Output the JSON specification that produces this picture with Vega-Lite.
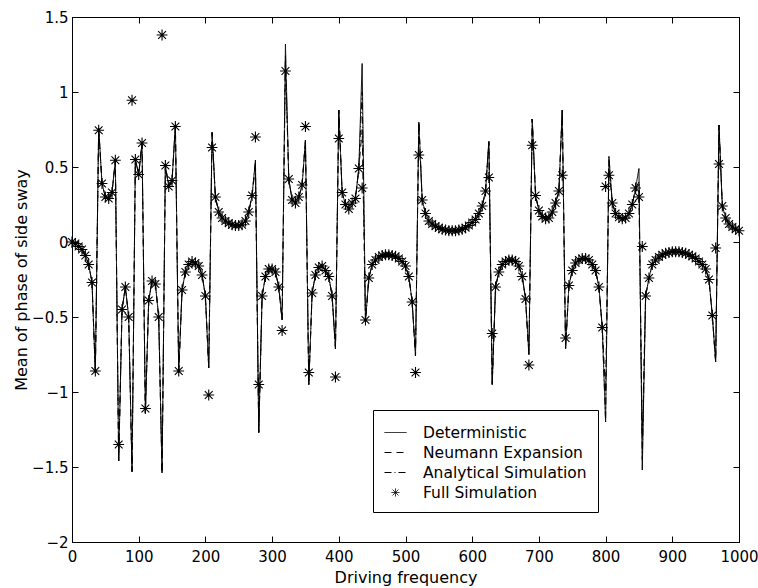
{
"$schema": "https://vega.github.io/schema/vega-lite/v6.json",
"width": 667, "height": 525,
"autosize": {"type": "none"},
"padding": {"left": 72, "top": 17, "right": 19, "bottom": 46},
"background": "white",
"config": {
  "view": {"stroke": "black", "strokeWidth": 1},
  "font": "DejaVu Sans",
  "axis": {"domainColor": "black", "tickColor": "black", "labelColor": "black", "titleColor": "black", "titleFontWeight": "normal", "grid": false, "labelFont": "DejaVu Sans", "titleFont": "DejaVu Sans", "labelFontSize": 15, "titleFontSize": 15, "tickSize": -6, "labelOverlap": false, "labelFlush": false}
},
"data": {"values": [
{"x":0,"d":0,"n":0,"a":0,"f":0},
{"x":5,"d":-0.01,"n":-0.01,"a":-0.01,"f":-0.01},
{"x":10,"d":-0.03,"n":-0.03,"a":-0.03,"f":-0.03},
{"x":15,"d":-0.05,"n":-0.05,"a":-0.05,"f":-0.05},
{"x":20,"d":-0.09,"n":-0.09,"a":-0.09,"f":-0.09},
{"x":25,"d":-0.15,"n":-0.15,"a":-0.15,"f":-0.15},
{"x":30,"d":-0.27,"n":-0.27,"a":-0.27,"f":-0.27},
{"x":35,"d":-0.87,"n":-0.87,"a":-0.87,"f":-0.86},
{"x":40,"d":0.76,"n":0.76,"a":0.76,"f":0.745},
{"x":45,"d":0.39,"n":0.39,"a":0.39,"f":0.39},
{"x":50,"d":0.3,"n":0.3,"a":0.3,"f":0.3},
{"x":55,"d":0.29,"n":0.29,"a":0.29,"f":0.29},
{"x":60,"d":0.33,"n":0.33,"a":0.33,"f":0.33},
{"x":65,"d":0.545,"n":0.545,"a":0.545,"f":0.545},
{"x":70,"d":-1.46,"n":-1.46,"a":-1.46,"f":-1.35},
{"x":75,"d":-0.45,"n":-0.45,"a":-0.45,"f":-0.45},
{"x":80,"d":-0.3,"n":-0.3,"a":-0.3,"f":-0.3},
{"x":85,"d":-0.5,"n":-0.5,"a":-0.5,"f":-0.5},
{"x":90,"d":-1.53,"n":-1.53,"a":-1.53,"f":0.945},
{"x":95,"d":0.55,"n":0.55,"a":0.55,"f":0.55},
{"x":100,"d":0.45,"n":0.45,"a":0.45,"f":0.45},
{"x":105,"d":0.66,"n":0.66,"a":0.66,"f":0.66},
{"x":110,"d":-1.14,"n":-1.14,"a":-1.14,"f":-1.11},
{"x":115,"d":-0.39,"n":-0.39,"a":-0.39,"f":-0.39},
{"x":120,"d":-0.26,"n":-0.26,"a":-0.26,"f":-0.26},
{"x":125,"d":-0.28,"n":-0.28,"a":-0.28,"f":-0.28},
{"x":130,"d":-0.5,"n":-0.5,"a":-0.5,"f":-0.5},
{"x":135,"d":-1.54,"n":-1.54,"a":-1.54,"f":1.38},
{"x":140,"d":0.51,"n":0.51,"a":0.51,"f":0.51},
{"x":145,"d":0.37,"n":0.37,"a":0.37,"f":0.37},
{"x":150,"d":0.41,"n":0.41,"a":0.41,"f":0.41},
{"x":155,"d":0.78,"n":0.78,"a":0.78,"f":0.77},
{"x":160,"d":-0.87,"n":-0.87,"a":-0.87,"f":-0.86},
{"x":165,"d":-0.32,"n":-0.32,"a":-0.32,"f":-0.32},
{"x":170,"d":-0.2,"n":-0.2,"a":-0.2,"f":-0.2},
{"x":175,"d":-0.15,"n":-0.15,"a":-0.15,"f":-0.15},
{"x":180,"d":-0.13,"n":-0.13,"a":-0.13,"f":-0.13},
{"x":185,"d":-0.14,"n":-0.14,"a":-0.14,"f":-0.14},
{"x":190,"d":-0.16,"n":-0.16,"a":-0.16,"f":-0.16},
{"x":195,"d":-0.22,"n":-0.22,"a":-0.22,"f":-0.22},
{"x":200,"d":-0.36,"n":-0.36,"a":-0.36,"f":-0.36},
{"x":205,"d":-0.84,"n":-0.84,"a":-0.84,"f":-1.02},
{"x":210,"d":0.73,"n":0.73,"a":0.73,"f":0.63},
{"x":215,"d":0.3,"n":0.3,"a":0.3,"f":0.3},
{"x":220,"d":0.2,"n":0.2,"a":0.2,"f":0.2},
{"x":225,"d":0.16,"n":0.16,"a":0.16,"f":0.16},
{"x":230,"d":0.14,"n":0.14,"a":0.14,"f":0.14},
{"x":235,"d":0.125,"n":0.125,"a":0.125,"f":0.125},
{"x":240,"d":0.115,"n":0.115,"a":0.115,"f":0.115},
{"x":245,"d":0.11,"n":0.11,"a":0.11,"f":0.11},
{"x":250,"d":0.11,"n":0.11,"a":0.11,"f":0.11},
{"x":255,"d":0.115,"n":0.115,"a":0.115,"f":0.115},
{"x":260,"d":0.14,"n":0.14,"a":0.14,"f":0.14},
{"x":265,"d":0.2,"n":0.2,"a":0.2,"f":0.2},
{"x":270,"d":0.31,"n":0.31,"a":0.31,"f":0.31},
{"x":275,"d":0.545,"n":0.5,"a":0.545,"f":0.7},
{"x":280,"d":-1.27,"n":-1.27,"a":-1.27,"f":-0.95},
{"x":285,"d":-0.36,"n":-0.36,"a":-0.36,"f":-0.36},
{"x":290,"d":-0.23,"n":-0.23,"a":-0.23,"f":-0.23},
{"x":295,"d":-0.18,"n":-0.18,"a":-0.18,"f":-0.18},
{"x":300,"d":-0.18,"n":-0.18,"a":-0.18,"f":-0.18},
{"x":305,"d":-0.2,"n":-0.2,"a":-0.2,"f":-0.2},
{"x":310,"d":-0.3,"n":-0.3,"a":-0.3,"f":-0.3},
{"x":315,"d":-0.52,"n":-0.52,"a":-0.52,"f":-0.59},
{"x":320,"d":1.32,"n":1.2,"a":1.25,"f":1.14},
{"x":325,"d":0.42,"n":0.42,"a":0.42,"f":0.42},
{"x":330,"d":0.28,"n":0.28,"a":0.28,"f":0.28},
{"x":335,"d":0.26,"n":0.26,"a":0.26,"f":0.26},
{"x":340,"d":0.3,"n":0.3,"a":0.3,"f":0.3},
{"x":345,"d":0.38,"n":0.38,"a":0.38,"f":0.38},
{"x":350,"d":0.68,"n":0.68,"a":0.68,"f":0.77},
{"x":355,"d":-0.95,"n":-0.95,"a":-0.95,"f":-0.87},
{"x":360,"d":-0.34,"n":-0.34,"a":-0.34,"f":-0.34},
{"x":365,"d":-0.22,"n":-0.22,"a":-0.22,"f":-0.22},
{"x":370,"d":-0.17,"n":-0.17,"a":-0.17,"f":-0.17},
{"x":375,"d":-0.16,"n":-0.16,"a":-0.16,"f":-0.16},
{"x":380,"d":-0.19,"n":-0.19,"a":-0.19,"f":-0.19},
{"x":385,"d":-0.23,"n":-0.23,"a":-0.23,"f":-0.23},
{"x":390,"d":-0.36,"n":-0.36,"a":-0.36,"f":-0.36},
{"x":395,"d":-0.71,"n":-0.71,"a":-0.71,"f":-0.9},
{"x":400,"d":0.88,"n":0.88,"a":0.88,"f":0.69},
{"x":405,"d":0.33,"n":0.33,"a":0.33,"f":0.33},
{"x":410,"d":0.25,"n":0.25,"a":0.25,"f":0.25},
{"x":415,"d":0.22,"n":0.22,"a":0.22,"f":0.22},
{"x":420,"d":0.26,"n":0.26,"a":0.26,"f":0.26},
{"x":425,"d":0.29,"n":0.29,"a":0.29,"f":0.29},
{"x":430,"d":0.49,"n":0.49,"a":0.49,"f":0.49},
{"x":435,"d":1.19,"n":0.75,"a":1.0,"f":0.36},
{"x":440,"d":-0.53,"n":-0.53,"a":-0.53,"f":-0.52},
{"x":445,"d":-0.24,"n":-0.24,"a":-0.24,"f":-0.24},
{"x":450,"d":-0.15,"n":-0.15,"a":-0.15,"f":-0.15},
{"x":455,"d":-0.12,"n":-0.12,"a":-0.12,"f":-0.12},
{"x":460,"d":-0.1,"n":-0.1,"a":-0.1,"f":-0.1},
{"x":465,"d":-0.09,"n":-0.09,"a":-0.09,"f":-0.09},
{"x":470,"d":-0.085,"n":-0.085,"a":-0.085,"f":-0.085},
{"x":475,"d":-0.085,"n":-0.085,"a":-0.085,"f":-0.085},
{"x":480,"d":-0.09,"n":-0.09,"a":-0.09,"f":-0.09},
{"x":485,"d":-0.095,"n":-0.095,"a":-0.095,"f":-0.095},
{"x":490,"d":-0.11,"n":-0.11,"a":-0.11,"f":-0.11},
{"x":495,"d":-0.13,"n":-0.13,"a":-0.13,"f":-0.13},
{"x":500,"d":-0.16,"n":-0.16,"a":-0.16,"f":-0.16},
{"x":505,"d":-0.23,"n":-0.23,"a":-0.23,"f":-0.23},
{"x":510,"d":-0.4,"n":-0.4,"a":-0.4,"f":-0.4},
{"x":515,"d":-0.76,"n":-0.76,"a":-0.76,"f":-0.87},
{"x":520,"d":0.8,"n":0.8,"a":0.8,"f":0.58},
{"x":525,"d":0.28,"n":0.28,"a":0.28,"f":0.28},
{"x":530,"d":0.19,"n":0.19,"a":0.19,"f":0.19},
{"x":535,"d":0.14,"n":0.14,"a":0.14,"f":0.14},
{"x":540,"d":0.12,"n":0.12,"a":0.12,"f":0.12},
{"x":545,"d":0.105,"n":0.105,"a":0.105,"f":0.105},
{"x":550,"d":0.095,"n":0.095,"a":0.095,"f":0.095},
{"x":555,"d":0.085,"n":0.085,"a":0.085,"f":0.085},
{"x":560,"d":0.08,"n":0.08,"a":0.08,"f":0.08},
{"x":565,"d":0.075,"n":0.075,"a":0.075,"f":0.075},
{"x":570,"d":0.075,"n":0.075,"a":0.075,"f":0.075},
{"x":575,"d":0.075,"n":0.075,"a":0.075,"f":0.075},
{"x":580,"d":0.08,"n":0.08,"a":0.08,"f":0.08},
{"x":585,"d":0.085,"n":0.085,"a":0.085,"f":0.085},
{"x":590,"d":0.095,"n":0.095,"a":0.095,"f":0.095},
{"x":595,"d":0.11,"n":0.11,"a":0.11,"f":0.11},
{"x":600,"d":0.13,"n":0.13,"a":0.13,"f":0.13},
{"x":605,"d":0.15,"n":0.15,"a":0.15,"f":0.15},
{"x":610,"d":0.19,"n":0.19,"a":0.19,"f":0.19},
{"x":615,"d":0.24,"n":0.24,"a":0.24,"f":0.24},
{"x":620,"d":0.34,"n":0.34,"a":0.34,"f":0.34},
{"x":625,"d":0.67,"n":0.67,"a":0.67,"f":0.43},
{"x":630,"d":-0.95,"n":-0.95,"a":-0.95,"f":-0.61},
{"x":635,"d":-0.3,"n":-0.3,"a":-0.3,"f":-0.3},
{"x":640,"d":-0.2,"n":-0.2,"a":-0.2,"f":-0.2},
{"x":645,"d":-0.15,"n":-0.15,"a":-0.15,"f":-0.15},
{"x":650,"d":-0.13,"n":-0.13,"a":-0.13,"f":-0.13},
{"x":655,"d":-0.12,"n":-0.12,"a":-0.12,"f":-0.12},
{"x":660,"d":-0.12,"n":-0.12,"a":-0.12,"f":-0.12},
{"x":665,"d":-0.13,"n":-0.13,"a":-0.13,"f":-0.13},
{"x":670,"d":-0.16,"n":-0.16,"a":-0.16,"f":-0.16},
{"x":675,"d":-0.23,"n":-0.23,"a":-0.23,"f":-0.23},
{"x":680,"d":-0.38,"n":-0.38,"a":-0.38,"f":-0.38},
{"x":685,"d":-0.75,"n":-0.75,"a":-0.75,"f":-0.82},
{"x":690,"d":0.82,"n":0.82,"a":0.82,"f":0.645},
{"x":695,"d":0.31,"n":0.31,"a":0.31,"f":0.31},
{"x":700,"d":0.21,"n":0.21,"a":0.21,"f":0.21},
{"x":705,"d":0.17,"n":0.17,"a":0.17,"f":0.17},
{"x":710,"d":0.155,"n":0.155,"a":0.155,"f":0.155},
{"x":715,"d":0.16,"n":0.16,"a":0.16,"f":0.16},
{"x":720,"d":0.2,"n":0.2,"a":0.2,"f":0.2},
{"x":725,"d":0.26,"n":0.26,"a":0.26,"f":0.26},
{"x":730,"d":0.34,"n":0.34,"a":0.34,"f":0.34},
{"x":735,"d":0.88,"n":0.88,"a":0.88,"f":0.445},
{"x":740,"d":-0.71,"n":-0.71,"a":-0.71,"f":-0.64},
{"x":745,"d":-0.29,"n":-0.29,"a":-0.29,"f":-0.29},
{"x":750,"d":-0.19,"n":-0.19,"a":-0.19,"f":-0.19},
{"x":755,"d":-0.14,"n":-0.14,"a":-0.14,"f":-0.14},
{"x":760,"d":-0.12,"n":-0.12,"a":-0.12,"f":-0.12},
{"x":765,"d":-0.11,"n":-0.11,"a":-0.11,"f":-0.11},
{"x":770,"d":-0.11,"n":-0.11,"a":-0.11,"f":-0.11},
{"x":775,"d":-0.12,"n":-0.12,"a":-0.12,"f":-0.12},
{"x":780,"d":-0.15,"n":-0.15,"a":-0.15,"f":-0.15},
{"x":785,"d":-0.19,"n":-0.19,"a":-0.19,"f":-0.19},
{"x":790,"d":-0.3,"n":-0.3,"a":-0.3,"f":-0.3},
{"x":795,"d":-0.57,"n":-0.57,"a":-0.57,"f":-0.57},
{"x":800,"d":-1.2,"n":-1.0,"a":-1.2,"f":0.37},
{"x":805,"d":0.57,"n":0.5,"a":0.57,"f":0.445},
{"x":810,"d":0.26,"n":0.26,"a":0.26,"f":0.26},
{"x":815,"d":0.19,"n":0.19,"a":0.19,"f":0.19},
{"x":820,"d":0.165,"n":0.165,"a":0.165,"f":0.165},
{"x":825,"d":0.155,"n":0.155,"a":0.155,"f":0.155},
{"x":830,"d":0.16,"n":0.16,"a":0.16,"f":0.16},
{"x":835,"d":0.19,"n":0.19,"a":0.19,"f":0.19},
{"x":840,"d":0.25,"n":0.25,"a":0.25,"f":0.25},
{"x":845,"d":0.36,"n":0.36,"a":0.36,"f":0.36},
{"x":850,"d":0.49,"n":0.3,"a":0.4,"f":0.3},
{"x":855,"d":-1.52,"n":-1.3,"a":-1.45,"f":-0.03},
{"x":860,"d":-0.36,"n":-0.36,"a":-0.36,"f":-0.36},
{"x":865,"d":-0.24,"n":-0.24,"a":-0.24,"f":-0.24},
{"x":870,"d":-0.15,"n":-0.15,"a":-0.15,"f":-0.15},
{"x":875,"d":-0.12,"n":-0.12,"a":-0.12,"f":-0.12},
{"x":880,"d":-0.1,"n":-0.1,"a":-0.1,"f":-0.1},
{"x":885,"d":-0.085,"n":-0.085,"a":-0.085,"f":-0.085},
{"x":890,"d":-0.075,"n":-0.075,"a":-0.075,"f":-0.075},
{"x":895,"d":-0.07,"n":-0.07,"a":-0.07,"f":-0.07},
{"x":900,"d":-0.065,"n":-0.065,"a":-0.065,"f":-0.065},
{"x":905,"d":-0.065,"n":-0.065,"a":-0.065,"f":-0.065},
{"x":910,"d":-0.065,"n":-0.065,"a":-0.065,"f":-0.065},
{"x":915,"d":-0.07,"n":-0.07,"a":-0.07,"f":-0.07},
{"x":920,"d":-0.075,"n":-0.075,"a":-0.075,"f":-0.075},
{"x":925,"d":-0.085,"n":-0.085,"a":-0.085,"f":-0.085},
{"x":930,"d":-0.095,"n":-0.095,"a":-0.095,"f":-0.095},
{"x":935,"d":-0.11,"n":-0.11,"a":-0.11,"f":-0.11},
{"x":940,"d":-0.13,"n":-0.13,"a":-0.13,"f":-0.13},
{"x":945,"d":-0.15,"n":-0.15,"a":-0.15,"f":-0.15},
{"x":950,"d":-0.18,"n":-0.18,"a":-0.18,"f":-0.18},
{"x":955,"d":-0.25,"n":-0.25,"a":-0.25,"f":-0.25},
{"x":960,"d":-0.49,"n":-0.49,"a":-0.49,"f":-0.49},
{"x":965,"d":-0.8,"n":-0.8,"a":-0.8,"f":-0.04},
{"x":970,"d":0.78,"n":0.78,"a":0.78,"f":0.52},
{"x":975,"d":0.24,"n":0.24,"a":0.24,"f":0.24},
{"x":980,"d":0.16,"n":0.16,"a":0.16,"f":0.16},
{"x":985,"d":0.12,"n":0.12,"a":0.12,"f":0.12},
{"x":990,"d":0.1,"n":0.1,"a":0.1,"f":0.1},
{"x":995,"d":0.085,"n":0.085,"a":0.085,"f":0.085},
{"x":1000,"d":0.075,"n":0.075,"a":0.075,"f":0.075}
]},
"layer": [
  {
    "transform": [{"fold": ["d", "n", "a"], "as": ["series", "v"]}],
    "mark": {"type": "line", "color": "black", "strokeWidth": 1, "clip": true},
    "encoding": {
      "x": {"field": "x", "type": "quantitative", "scale": {"domain": [0, 1000], "nice": false, "zero": false},
            "axis": {"orient": "bottom", "values": [0,100,200,300,400,500,600,700,800,900,1000], "format": "d", "title": "Driving frequency", "titleFontSize": 16, "labelPadding": 13, "titlePadding": 5}},
      "y": {"field": "v", "type": "quantitative", "scale": {"domain": [-2, 1.5], "nice": false, "zero": false},
            "axis": {"orient": "left", "values": [-2,-1.5,-1,-0.5,0,0.5,1,1.5], "format": "~g", "title": "Mean of phase of side sway", "titleFontSize": 16, "labelPadding": 10, "titlePadding": 2}},
      "strokeDash": {"field": "series", "type": "nominal",
            "scale": {"domain": ["d", "n", "a", "f"], "range": [[1,0],[7,5],[7,3,1,3],[1,0]]},
            "legend": {"orient": "none", "legendX": 301, "legendY": 393, "title": null,
              "labelExpr": "{'d':'Deterministic','n':'Neumann Expansion','a':'Analytical Simulation','f':'Full Simulation'}[datum.label]",
              "strokeColor": "black", "fillColor": "white", "padding": 11, "symbolSize": 484, "symbolStrokeWidth": 1,
              "symbolStrokeColor": "black", "labelFontSize": 15.5, "labelFont": "DejaVu Sans", "labelColor": "black", "labelOffset": 16, "labelLimit": 400, "rowPadding": 0}}
    }
  },
  {
    "transform": [{"fold": ["f"], "as": ["series", "v"]}],
    "mark": {"type": "point", "filled": false, "color": "black", "strokeWidth": 1.1, "size": 900, "opacity": 1},
    "encoding": {
      "x": {"field": "x", "type": "quantitative", "scale": {"domain": [0, 1000], "nice": false, "zero": false},
            "axis": {"orient": "top", "values": [0,100,200,300,400,500,600,700,800,900,1000], "labels": false, "title": null}},
      "y": {"field": "v", "type": "quantitative", "scale": {"domain": [-2, 1.5], "nice": false, "zero": false},
            "axis": {"orient": "right", "values": [-2,-1.5,-1,-0.5,0,0.5,1,1.5], "labels": false, "title": null}},
      "shape": {"field": "series", "type": "nominal",
            "scale": {"domain": ["d", "n", "a", "f"], "range": ["stroke", "stroke", "stroke", "M-0.36,0L0.36,0M0,-0.36L0,0.36M-0.26,-0.26L0.26,0.26M-0.26,0.26L0.26,-0.26"]},
            "legend": {"orient": "none", "legendX": 301, "legendY": 393, "title": null,
              "labelExpr": "{'d':'Deterministic','n':'Neumann Expansion','a':'Analytical Simulation','f':'Full Simulation'}[datum.label]",
              "strokeColor": "black", "fillColor": "white", "padding": 11, "symbolSize": 484, "symbolStrokeWidth": 1,
              "symbolStrokeColor": "black", "labelFontSize": 15.5, "labelFont": "DejaVu Sans", "labelColor": "black", "labelOffset": 16, "labelLimit": 400, "rowPadding": 0}}
    }
  }
],
"resolve": {"axis": {"x": "independent", "y": "independent"}}
}
